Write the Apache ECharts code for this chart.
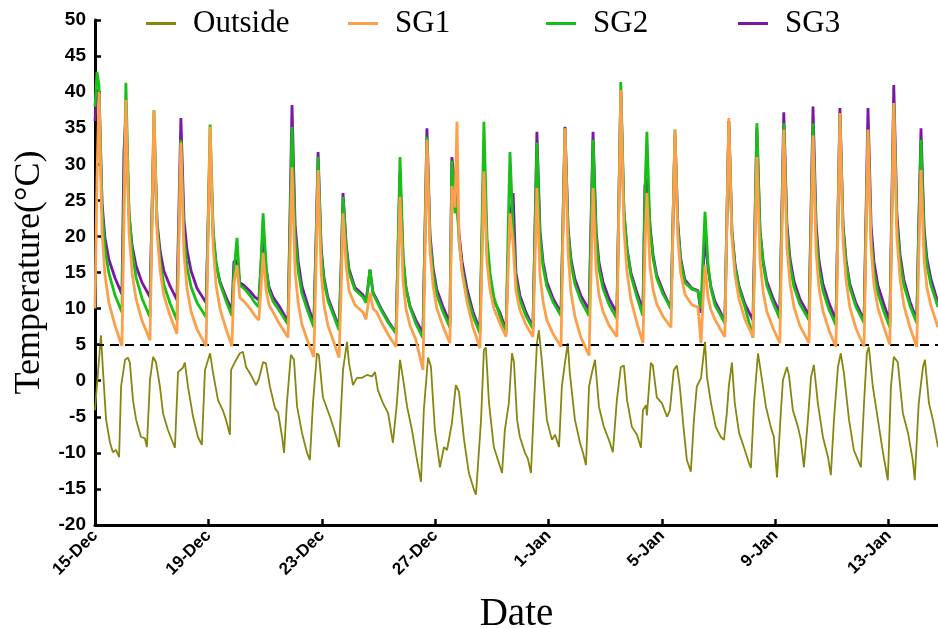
<!DOCTYPE html>
<html>
<head>
<meta charset="utf-8">
<script src="https://cdn.jsdelivr.net/npm/echarts@6/dist/echarts.min.js"></script>
<style>
  html, body { margin: 0; padding: 0; background: #ffffff; }
  #chart { width: 938px; height: 628px; }
</style>
</head>
<body>
<div id="chart"></div>
<script>
// Tick labels every four days along the date axis (axis unit: days since 15-Dec)
const dateTicks = [0, 4, 8, 12, 16, 20, 24, 28];
const dateLabels = ['15-Dec', '19-Dec', '23-Dec', '27-Dec', '1-Jan', '5-Jan', '9-Jan', '13-Jan'];

// Outside air temperature (°C)
const outsideDay = [
  0.00, 0.21, 0.28, 0.39, 0.53, 0.63, 0.74, 0.85, 0.92, 1.06, 1.16, 1.23, 1.34, 1.45, 1.62, 1.76, 1.83,
  1.94, 2.05, 2.15, 2.29, 2.40, 2.57, 2.75, 2.82, 2.93, 3.10, 3.17, 3.28, 3.46, 3.63, 3.77,
  3.88, 4.06, 4.16, 4.34, 4.51, 4.62, 4.76, 4.80, 4.94, 5.11, 5.22, 5.33, 5.50, 5.68, 5.78,
  5.93, 6.03, 6.17, 6.35, 6.46, 6.60, 6.67, 6.77, 6.91, 7.02, 7.13, 7.30, 7.48, 7.58,
  7.69, 7.83, 7.90, 8.04, 8.29, 8.47, 8.61, 8.75, 8.89, 8.96, 9.10, 9.24, 9.42, 9.59, 9.77, 9.88,
  9.98, 10.16, 10.34, 10.51, 10.65, 10.76, 10.86, 11.01, 11.18, 11.36, 11.50, 11.60, 11.75, 11.85,
  11.99, 12.17, 12.31, 12.42, 12.59, 12.73, 12.84, 13.02, 13.19, 13.37, 13.44, 13.54, 13.62, 13.72,
  13.79, 13.90, 14.07, 14.25, 14.36, 14.46, 14.60, 14.71, 14.78, 14.89, 14.99, 15.17, 15.27, 15.38,
  15.49, 15.59, 15.66, 15.77, 15.94, 16.12, 16.23, 16.37, 16.47, 16.58, 16.68, 16.75, 16.93, 17.11,
  17.21, 17.32, 17.43, 17.53, 17.64, 17.78, 17.95, 18.13, 18.27, 18.41, 18.55, 18.66, 18.77, 18.94,
  19.12, 19.26, 19.33, 19.44, 19.47, 19.61, 19.68, 19.82, 20.00, 20.18, 20.28, 20.42, 20.53, 20.63,
  20.78, 20.88, 21.02, 21.13, 21.23, 21.38, 21.52, 21.59, 21.73, 21.90, 22.08, 22.19, 22.29, 22.36,
  22.47, 22.57, 22.72, 22.89, 23.07, 23.14, 23.25, 23.39, 23.49, 23.67, 23.84, 23.95, 24.06, 24.20,
  24.27, 24.41, 24.48, 24.62, 24.80, 24.90, 25.01, 25.15, 25.26, 25.36, 25.50, 25.68, 25.86, 25.96,
  26.07, 26.21, 26.31, 26.42, 26.60, 26.77, 27.02, 27.13, 27.23, 27.30, 27.44, 27.62, 27.80, 27.97,
  28.08, 28.18, 28.32, 28.50, 28.68, 28.85, 28.92, 29.06, 29.21, 29.28, 29.42, 29.56, 29.74
];
const outsideTemp = [
  -4.1, 6.3, 1.5, -5.4, -8.6, -9.9, -9.6, -10.6, -0.8, 2.9, 3.2, 2.5, -2.7, -5.4, -7.8, -8.0, -9.2,
  0.1, 3.3, 2.6, -0.8, -4.5, -6.8, -8.6, -9.3, 1.2, 1.8, 2.5, -0.8, -5.0, -7.8, -8.9,
  1.5, 3.8, 1.2, -2.7, -4.1, -5.4, -7.5, 1.5, 2.6, 3.8, 4.0, 1.9, 0.8, -0.6, 0.2,
  2.6, 2.4, -0.8, -3.8, -4.4, -7.8, -10.0, -3.1, 3.6, 2.9, -3.6, -7.2, -10.0, -11.0,
  -3.1, 3.8, 3.5, -2.3, -5.0, -7.2, -9.2, 1.5, 5.4, 2.5, -0.6, 0.4, 0.4, 0.8, 0.6, 1.2,
  -1.3, -3.1, -4.5, -8.6, -3.1, 2.9, 0.5, -3.6, -6.8, -11.0, -14.0, -4.1, 3.2, 2.0,
  -6.8, -12.0, -9.2, -9.6, -5.9, -0.6, -1.5, -8.2, -12.8, -15.1, -15.8, -10.0, -5.4, 4.3,
  4.6, -3.1, -9.2, -11.4, -12.8, -6.8, -3.1, 3.8, 2.6, -5.4, -7.8, -10.0, -10.8, -12.8,
  -3.1, 5.2, 7.0, 2.5, -5.4, -8.2, -7.5, -9.2, -0.8, 2.5, 5.2, 1.1, -5.4, -8.6,
  -9.9, -11.7, -0.8, 1.1, 2.9, -3.6, -6.4, -8.2, -9.9, -2.7, 1.9, 2.1, -2.7, -6.4,
  -7.5, -9.3, -4.1, -3.4, -4.8, 2.5, 2.1, -2.3, -3.1, -5.0, -4.1, 1.5, 2.1, -0.8,
  -7.2, -11.0, -12.6, -5.4, -0.8, 0.4, 5.4, 0.5, -3.1, -6.4, -7.8, -8.2, -4.5, -0.8,
  2.5, -3.1, -7.2, -9.2, -11.4, -12.1, -3.1, 3.8, 1.2, -3.6, -6.4, -7.8, -13.4, -4.1,
  0.1, 1.9, 0.8, -4.1, -6.4, -8.2, -12.0, -5.4, 0.5, 2.2, -3.1, -7.8, -10.6, -13.1,
  -5.4, 1.9, 3.8, 1.1, -5.4, -9.6, -12.0, -3.1, 3.8, 4.7, -0.8, -5.4, -10.0, -13.8,
  -0.8, 3.3, 2.6, -4.5, -7.2, -11.0, -13.8, -3.1, 1.9, 2.9, -3.1, -5.4, -9.2
];

// Greenhouse readings share one time base (days since 15-Dec)
const ghDay = [
  0.00, 0.07, 0.14, 0.25, 0.35, 0.49, 0.71,
  0.95, 1.02, 1.09, 1.20, 1.31, 1.45, 1.66,
  1.94, 2.01, 2.08, 2.19, 2.30, 2.43, 2.65,
  2.89, 2.96, 3.03, 3.14, 3.25, 3.39, 3.60,
  3.92, 3.99, 4.06, 4.17, 4.27, 4.41, 4.62,
  4.83, 4.90, 5.01, 5.11, 5.26, 5.47, 5.64,
  5.78, 5.86, 5.93, 6.04, 6.14, 6.28, 6.49,
  6.81, 6.88, 6.95, 7.06, 7.17, 7.30, 7.51,
  7.72, 7.80, 7.87, 7.98, 8.08, 8.22, 8.43,
  8.61, 8.68, 8.75, 8.86, 8.96, 9.17, 9.45,
  9.56, 9.63, 9.70, 9.81, 9.92, 10.12, 10.37,
  10.62, 10.69, 10.76, 10.87, 10.97, 11.11, 11.32,
  11.57, 11.64, 11.71, 11.82, 11.93, 12.06, 12.28,
  12.52, 12.59, 12.70, 12.77, 12.84, 12.95, 13.12, 13.33,
  13.58, 13.65, 13.72, 13.83, 13.94, 14.07, 14.29,
  14.50, 14.57, 14.64, 14.75, 14.85, 14.99, 15.20,
  15.45, 15.52, 15.59, 15.70, 15.81, 15.94, 16.16,
  16.44, 16.51, 16.58, 16.69, 16.79, 16.93, 17.14,
  17.43, 17.50, 17.57, 17.68, 17.78, 17.92, 18.13,
  18.41, 18.48, 18.55, 18.66, 18.77, 18.91, 19.12,
  19.33, 19.40, 19.47, 19.58, 19.69, 19.82, 20.04,
  20.32, 20.39, 20.46, 20.56, 20.66, 20.81, 21.06, 21.27,
  21.38, 21.45, 21.52, 21.63, 21.73, 21.87, 22.08,
  22.22, 22.29, 22.36, 22.47, 22.58, 22.72, 22.93,
  23.21, 23.28, 23.35, 23.46, 23.57, 23.70, 23.92,
  24.16, 24.23, 24.30, 24.41, 24.52, 24.66, 24.87,
  25.19, 25.26, 25.33, 25.44, 25.54, 25.68, 25.89,
  26.14, 26.21, 26.28, 26.39, 26.50, 26.63, 26.84,
  27.13, 27.20, 27.27, 27.38, 27.48, 27.62, 27.83,
  28.04, 28.11, 28.18, 28.29, 28.40, 28.54, 28.75,
  28.99, 29.06, 29.14, 29.25, 29.35, 29.49, 29.74
];
const sg1Temp = [
  10, 28, 40, 20.6, 14.7, 10.8, 7.6,
  4.8, 21.9, 38.9, 20.6, 14.9, 11.3, 8.3,
  5.6, 21.6, 37.5, 20.5, 15.2, 11.8, 9.0,
  6.5, 19.8, 33, 17.5, 12.7, 9.6, 7.1,
  4.8, 20.0, 35.2, 18.5, 13.3, 10.0, 7.2,
  4.8, 13.5, 16.0, 11.5, 11.0, 10.0, 9.0,
  8.4, 13, 17.7, 12.5, 10.5, 9.5, 8.0,
  6.0, 17.8, 29.6, 15.1, 10.7, 7.8, 5.4,
  3.3, 16.3, 29.2, 14.9, 10.5, 7.6, 5.3,
  3.2, 12, 23.2, 16, 12.5, 10.5, 9.5,
  8.5, 10.5, 12.2, 10.0, 9.6, 8.0, 6.2,
  4.7, 15.1, 25.5, 13.7, 10.0, 7.7, 5.7,
  1.5, 17.5, 33.4, 17.9, 13.1, 10.0, 7.5,
  5.2, 27, 24, 35.9, 20, 15, 11, 7.5,
  4.5, 16.5, 29, 16.4, 12.5, 10.0, 7.9,
  6.1, 15, 23.2, 19, 12.5, 9.8, 7.8,
  6.1, 16.4, 26.7, 14.6, 10.9, 8.4, 6.5,
  4.7, 19.9, 35, 17.7, 12.3, 8.9, 6.0,
  3.5, 15.1, 26.7, 15.4, 11.9, 9.6, 7.7,
  6.1, 23.2, 40.3, 21.0, 15.0, 11.2, 8.0,
  5.2, 18, 26, 15.8, 12.6, 10.6, 8.9,
  7.4, 21, 34.8, 20, 15, 12, 10.5, 10.2,
  5.2, 11, 16, 11.5, 9.8, 8.5, 7.0,
  6.1, 21.3, 36.4, 19.7, 14.6, 11.3, 8.5,
  6.1, 18.6, 31, 16.8, 12.4, 9.6, 7.3,
  5.2, 20.0, 34.8, 18.5, 13.5, 10.2, 7.6,
  5.2, 19.6, 34, 17.9, 12.9, 9.7, 7.0,
  4.7, 20.9, 37.1, 19.3, 13.8, 10.2, 7.3,
  4.7, 19.7, 34.8, 18.4, 13.3, 10.1, 7.4,
  5.0, 21.8, 38.5, 19.9, 14.2, 10.4, 7.4,
  4.7, 17.0, 29.2, 16.7, 12.9, 10.4, 7.4
];
const sg2Temp = [
  38, 42.8, 41, 23.7, 18.3, 14.9, 11.8,
  9.5, 25.4, 41.3, 23.4, 17.9, 14.3, 11.4,
  8.8, 23.2, 37.5, 21.5, 16.5, 13.3, 10.7,
  8.4, 20.9, 33.4, 19.9, 15.7, 13.0, 10.8,
  8.8, 22.2, 35.5, 20.9, 16.4, 13.5, 11.1,
  9.0, 15.0, 19.8, 13.2, 12.8, 11.8, 10.8,
  10.2, 17, 23.2, 15.5, 12.5, 11.0, 9.8,
  7.8, 21.5, 35.2, 19.9, 15.2, 12.1, 9.6,
  7.4, 19.2, 31, 17.8, 13.7, 11.1, 8.9,
  7.0, 15, 25.5, 18.5, 15.0, 12.6, 11.6,
  10.8, 13, 15.4, 12, 11.2, 9.6, 7.9,
  6.6, 18.8, 31, 17.2, 12.9, 10.2, 7.9,
  5.9, 19.9, 33.8, 19.3, 14.8, 11.9, 9.5,
  7.4, 30.5, 23.2, 25, 19.5, 15.5, 12, 9.0,
  6.6, 21.2, 35.9, 19.8, 14.8, 11.6, 8.9,
  6.6, 20, 31.7, 21, 14, 11.2, 9.0,
  7.2, 20.1, 33, 19.8, 15.7, 13.1, 10.9,
  9.0, 22.0, 35, 20.7, 16.3, 13.4, 11.1,
  9.0, 21.2, 33.4, 19.8, 15.5, 12.8, 10.6,
  8.6, 25.0, 41.4, 23.6, 18.1, 14.5, 11.6,
  9.0, 26, 34.5, 21.0, 16.9, 14.2, 12.0,
  10.0, 22, 34.8, 21.5, 16.5, 13.6, 12.7, 12.4,
  10.0, 17, 23.4, 16, 12.8, 10.5, 9.0,
  8.0, 22, 36, 20.6, 15.8, 12.8, 10.2,
  6.0, 20.9, 35.7, 20.8, 16.2, 13.2, 10.8,
  8.6, 22.2, 35.7, 20.7, 16.0, 13.0, 10.6,
  8.4, 22.1, 35.7, 20.3, 15.5, 12.5, 9.9,
  7.7, 22.4, 37, 21.1, 16.1, 12.9, 10.3,
  8.0, 21.4, 34.8, 19.7, 15.1, 12.1, 9.6,
  7.4, 23.0, 38.5, 21.7, 16.5, 13.2, 10.4,
  8.0, 20.7, 33.4, 20.1, 16.0, 13.3, 10.2
];
const sg3Temp = [
  36, 40.3, 40, 24.6, 19.8, 16.8, 14.2,
  12.0, 31.6, 37, 23.0, 18.7, 15.9, 13.6,
  11.6, 23.3, 35, 21.9, 17.9, 15.2, 13.1,
  11.2, 23.8, 36.4, 22.3, 18.0, 15.2, 12.8,
  10.8, 21.7, 32.5, 20.0, 16.2, 13.7, 11.6,
  9.8, 16.5, 16.7, 13.6, 13.2, 12.4, 11.6,
  11.2, 16, 21, 15.5, 13.0, 11.6, 10.4,
  8.2, 23.2, 38.2, 21.6, 16.5, 13.1, 10.4,
  8.0, 19.9, 31.7, 18.3, 14.2, 11.5, 9.3,
  7.4, 15.5, 26, 19.0, 15.5, 12.9, 11.9,
  11.0, 13, 15.4, 12.2, 11.4, 9.8, 8.1,
  6.6, 17.8, 29, 16.7, 12.9, 10.4, 8.4,
  6.6, 20.8, 35, 20.2, 15.6, 12.6, 10.2,
  8.0, 31, 27, 25, 20.5, 16.5, 12.8, 9.6,
  7.0, 19.0, 31, 17.8, 13.7, 11.1, 9.4,
  7.0, 17, 22, 26, 15, 11.8, 9.5,
  7.4, 20.9, 34.5, 20.7, 16.4, 13.7, 11.4,
  9.4, 22.3, 35.2, 21.2, 16.9, 14.1, 11.8,
  9.8, 22.2, 34.5, 20.7, 16.4, 13.7, 11.4,
  9.4, 24.7, 40, 23.4, 18.3, 14.9, 12.2,
  9.8, 27, 28, 21.5, 17.4, 14.6, 12.4,
  10.0, 22, 34, 22, 17, 14, 12.8, 12.5,
  9.4, 15, 20, 15.5, 13, 11, 9.4,
  8.0, 22, 36, 20.8, 16.1, 13.1, 10.6,
  8.4, 21.7, 35, 20.9, 16.6, 13.8, 11.4,
  9.4, 23.3, 37.2, 21.7, 16.9, 13.8, 11.3,
  9.0, 23.5, 38, 21.7, 16.7, 13.4, 10.8,
  8.4, 23.1, 37.8, 21.6, 16.6, 13.4, 10.8,
  8.4, 23.1, 37.8, 21.5, 16.5, 13.2, 10.6,
  8.2, 24.6, 41, 23.1, 17.5, 13.9, 11.0,
  8.4, 21.7, 35, 21.1, 16.9, 14.1, 10.8
];

// Reference level drawn as a dashed line
const thresholdTemp = 5;

const seriesNames = ['Outside', 'SG1', 'SG2', 'SG3'];
const seriesColors = {
  Outside: '#868611',
  SG1: '#fca04c',
  SG2: '#17bf17',
  SG3: '#7b16a6'
};

function pairs(xs, ys) {
  return xs.map(function (x, i) { return [x, ys[i]]; });
}

const serif = '"Liberation Serif", "Times New Roman", serif';
const sans = '"Liberation Sans", Arial, sans-serif';

const legendLeft = [146, 348, 546, 738];
const legends = seriesNames.map(function (name, i) {
  return {
    data: [name],
    left: legendLeft[i],
    top: 8,
    padding: 0,
    icon: 'rect',
    itemWidth: 30,
    itemHeight: 3,
    selectedMode: false,
    textStyle: {
      fontFamily: serif,
      fontSize: 31,
      color: '#000',
      padding: [0, 0, 0, 12]
    }
  };
});

function lineSeries(name, xs, ys, width, z) {
  return {
    name: name,
    type: 'line',
    data: pairs(xs, ys),
    symbol: 'none',
    showSymbol: false,
    smooth: false,
    z: z,
    color: seriesColors[name],
    lineStyle: { color: seriesColors[name], width: width },
    emphasis: { disabled: true }
  };
}

const sg1 = lineSeries('SG1', ghDay, sg1Temp, 2.8, 5);
sg1.markLine = {
  silent: true,
  symbol: ['none', 'none'],
  label: { show: false },
  lineStyle: { color: '#000', type: [9, 6], width: 2.2 },
  emphasis: { disabled: true },
  data: [{ yAxis: thresholdTemp }]
};

const chart = echarts.init(document.getElementById('chart'), null, { renderer: 'canvas' });
chart.setOption({
  animation: false,
  backgroundColor: '#ffffff',
  legend: legends,
  grid: { left: 95, right: 0, top: 20, bottom: 103, containLabel: false, outerBoundsMode: 'none' },
  xAxis: {
    type: 'value',
    min: 0,
    max: 29.74,
    interval: 4,
    splitLine: { show: false },
    axisLine: { show: true, onZero: false, lineStyle: { color: '#000', width: 3 } },
    axisTick: { show: true, inside: true, length: 6, customValues: dateTicks, lineStyle: { color: '#000', width: 2.5 } },
    axisLabel: {
      show: true,
      customValues: dateTicks,
      rotate: 45,
      margin: 8,
      color: '#000',
      fontFamily: sans,
      fontWeight: 'bold',
      fontSize: 17,
      formatter: function (v) {
        const i = dateTicks.indexOf(Math.round(v));
        return i >= 0 ? dateLabels[i] : '';
      }
    },
    name: 'Date',
    nameLocation: 'middle',
    nameGap: 70,
    nameTextStyle: { fontFamily: serif, fontSize: 39, color: '#000' }
  },
  yAxis: {
    type: 'value',
    min: -20,
    max: 50,
    interval: 5,
    splitLine: { show: false },
    axisLine: { show: true, lineStyle: { color: '#000', width: 3 } },
    axisTick: { show: true, inside: true, length: 6, lineStyle: { color: '#000', width: 2.5 } },
    axisLabel: {
      color: '#000',
      fontFamily: sans,
      fontWeight: 'bold',
      fontSize: 19,
      margin: 9
    },
    name: 'Temperature(°C)',
    nameLocation: 'middle',
    nameGap: 43,
    nameTextStyle: { fontFamily: serif, fontSize: 36, color: '#000' }
  },
  series: [
    lineSeries('Outside', outsideDay, outsideTemp, 1.8, 2),
    lineSeries('SG3', ghDay, sg3Temp, 2.8, 3),
    lineSeries('SG2', ghDay, sg2Temp, 2.8, 4),
    sg1
  ]
});
</script>
</body>
</html>
